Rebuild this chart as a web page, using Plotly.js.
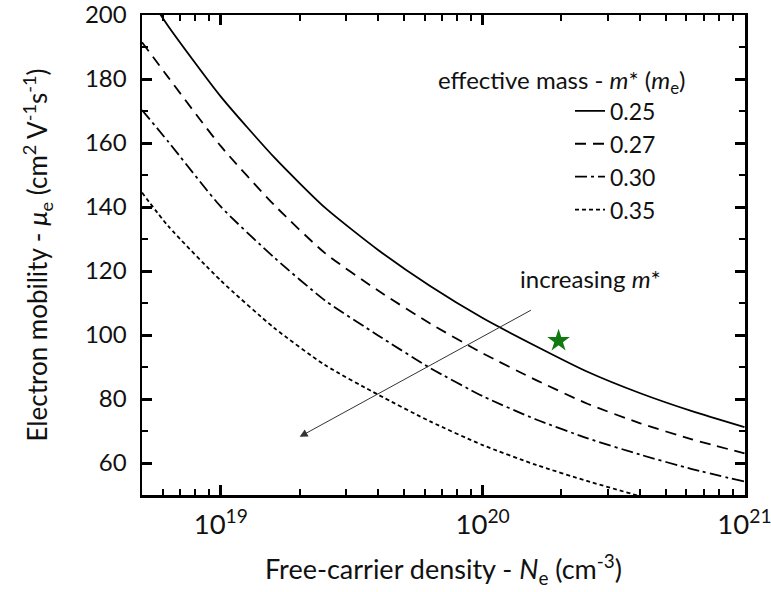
<!DOCTYPE html>
<html>
<head>
<meta charset="utf-8">
<script src="https://cdn.plot.ly/plotly-3.0.1.min.js"></script>
<style>html,body{margin:0;padding:0;background:#fff;}#chart{width:771px;height:592px;}</style>
</head>
<body>
<div id="chart"></div>
<script>
// Free-carrier density (cm^-3)
const density = [5e18, 6.3e18, 1e19, 1.6e19, 2.5e19, 4e19, 6.3e19, 1e20, 1.6e20, 2.5e20, 4e20, 6.3e20, 1e21];
// Electron mobility (cm^2 V^-1 s^-1) for each effective mass
const mu025 = [209, 196.5, 174.5, 155.5, 139.8, 126.5, 115.3, 105.3, 96.5, 88.6, 81.8, 76.2, 71.2];
const mu027 = [191.5, 180.5, 159, 140.6, 125.6, 113.8, 103.6, 94.3, 85.9, 78.6, 72.4, 67.4, 63];
const mu030 = [170.3, 160.4, 140.1, 124.2, 110.8, 99.8, 89.7, 80.9, 73.6, 67.8, 62.6, 58.1, 54.2];
const mu035 = [144.5, 134, 117, 102.2, 90.6, 81.3, 73, 65.6, 59.4, 54.4, 49.6];
const massLabels = ['0.25', '0.27', '0.30', '0.35'];
// Measured point (star)
const starN = [1.95e20];
const starMu = [98.2];

const FONT = 'Lato, "Open Sans", sans-serif';
const lw = 1.8;
const XR = [Math.log10(5e18), 21.002];
const YR = [50, 200];
const sp = {shape: 'spline', smoothing: 0.6};
const traces = [
  {x: density, y: mu025, name: massLabels[0], legendgroup: 'a', mode: 'lines', line: Object.assign({color: '#000', width: lw, dash: 'solid'}, sp)},
  {x: density, y: mu027, name: massLabels[1], legendgroup: 'b', mode: 'lines', line: Object.assign({color: '#000', width: lw, dash: '11px,7px'}, sp)},
  {x: density, y: mu030, name: massLabels[2], legendgroup: 'c', mode: 'lines', line: Object.assign({color: '#000', width: lw, dash: '12px,4px,3px,4px'}, sp)},
  {x: density.slice(0, mu035.length), y: mu035, name: massLabels[3], legendgroup: 'd', mode: 'lines', line: Object.assign({color: '#000', width: lw, dash: '4px,3px'}, sp)},
  {x: starN, y: starMu, mode: 'markers', showlegend: false, marker: {symbol: 'star', size: 17, color: '#0f7a0f'}}
];

const common = {showgrid: false, zeroline: false, ticklabeloverflow: 'allow',
  ticks: 'inside', ticklen: 10, tickwidth: 3, tickcolor: '#000',
  showline: true, linecolor: '#000', linewidth: 2.5, mirror: 'allticks'};

const layout = {
  width: 771, height: 592,
  margin: {l: 142, r: 26, t: 15, b: 97},
  paper_bgcolor: '#fff', plot_bgcolor: 'rgba(0,0,0,0)',
  font: {family: FONT, color: '#111'},
  showlegend: true,
  xaxis: Object.assign({}, common, {
    type: 'log', range: XR, layer: 'above traces',
    tickmode: 'linear', tick0: 0, dtick: 1, exponentformat: 'power', showexponent: 'all',
    tickfont: {family: FONT, size: 22, color: '#111'}, ticklabelstandoff: 5,
    minor: {ticks: 'inside', ticklen: 6, tickwidth: 2, tickcolor: '#000', dtick: 'D1'},
    title: {text: 'Free-carrier density - <i>N</i><sub>e</sub> (cm<sup>-3</sup>)', font: {family: FONT, size: 27, color: '#111'}, standoff: 21}
  }),
  yaxis: Object.assign({}, common, {
    range: YR, layer: 'above traces',
    tickmode: 'linear', tick0: 0, dtick: 20,
    tickfont: {family: FONT, size: 24, color: '#111'}, ticklabelstandoff: 8,
    minor: {ticks: 'inside', ticklen: 6, tickwidth: 2, tickcolor: '#000', dtick: 10},
    title: {text: 'Electron mobility - <i>μ</i><sub>e</sub> (cm<sup>2</sup> V<sup>-1</sup>s<sup>-1</sup>)', font: {family: FONT, size: 26, color: '#111'}, standoff: 30}
  }),
  legend: {
    x: 0.7098, y: 0.845, xanchor: 'left', yanchor: 'top',
    bgcolor: 'rgba(0,0,0,0)', borderwidth: 0,
    font: {family: FONT, size: 23, color: '#111'},
    traceorder: 'grouped', tracegroupgap: 0, itemwidth: 30
  },
  annotations: [
    {xref: 'paper', yref: 'paper', x: 0.696, y: 0.862, xanchor: 'center', yanchor: 'middle', showarrow: false,
     text: 'effective mass - <i>m</i>* (<i>m</i><sub>e</sub>)', font: {family: FONT, size: 24, color: '#111'}},
    {xref: 'x', yref: 'y', x: Math.log10(2e19), y: 68.2, axref: 'x', ayref: 'y', ax: 20.19, ay: 108,
     showarrow: true, arrowhead: 2, arrowsize: 1.6, arrowwidth: 1, arrowcolor: '#333', text: ''},
    {xref: 'x', yref: 'y', x: 20.134, y: 117.8, xanchor: 'left', yanchor: 'middle', showarrow: false,
     text: 'increasing <i>m</i>*', font: {family: FONT, size: 24, color: '#111'}}
  ]
};

Plotly.newPlot('chart', traces, layout, {displayModeBar: false, staticPlot: true});
</script>
</body>
</html>
